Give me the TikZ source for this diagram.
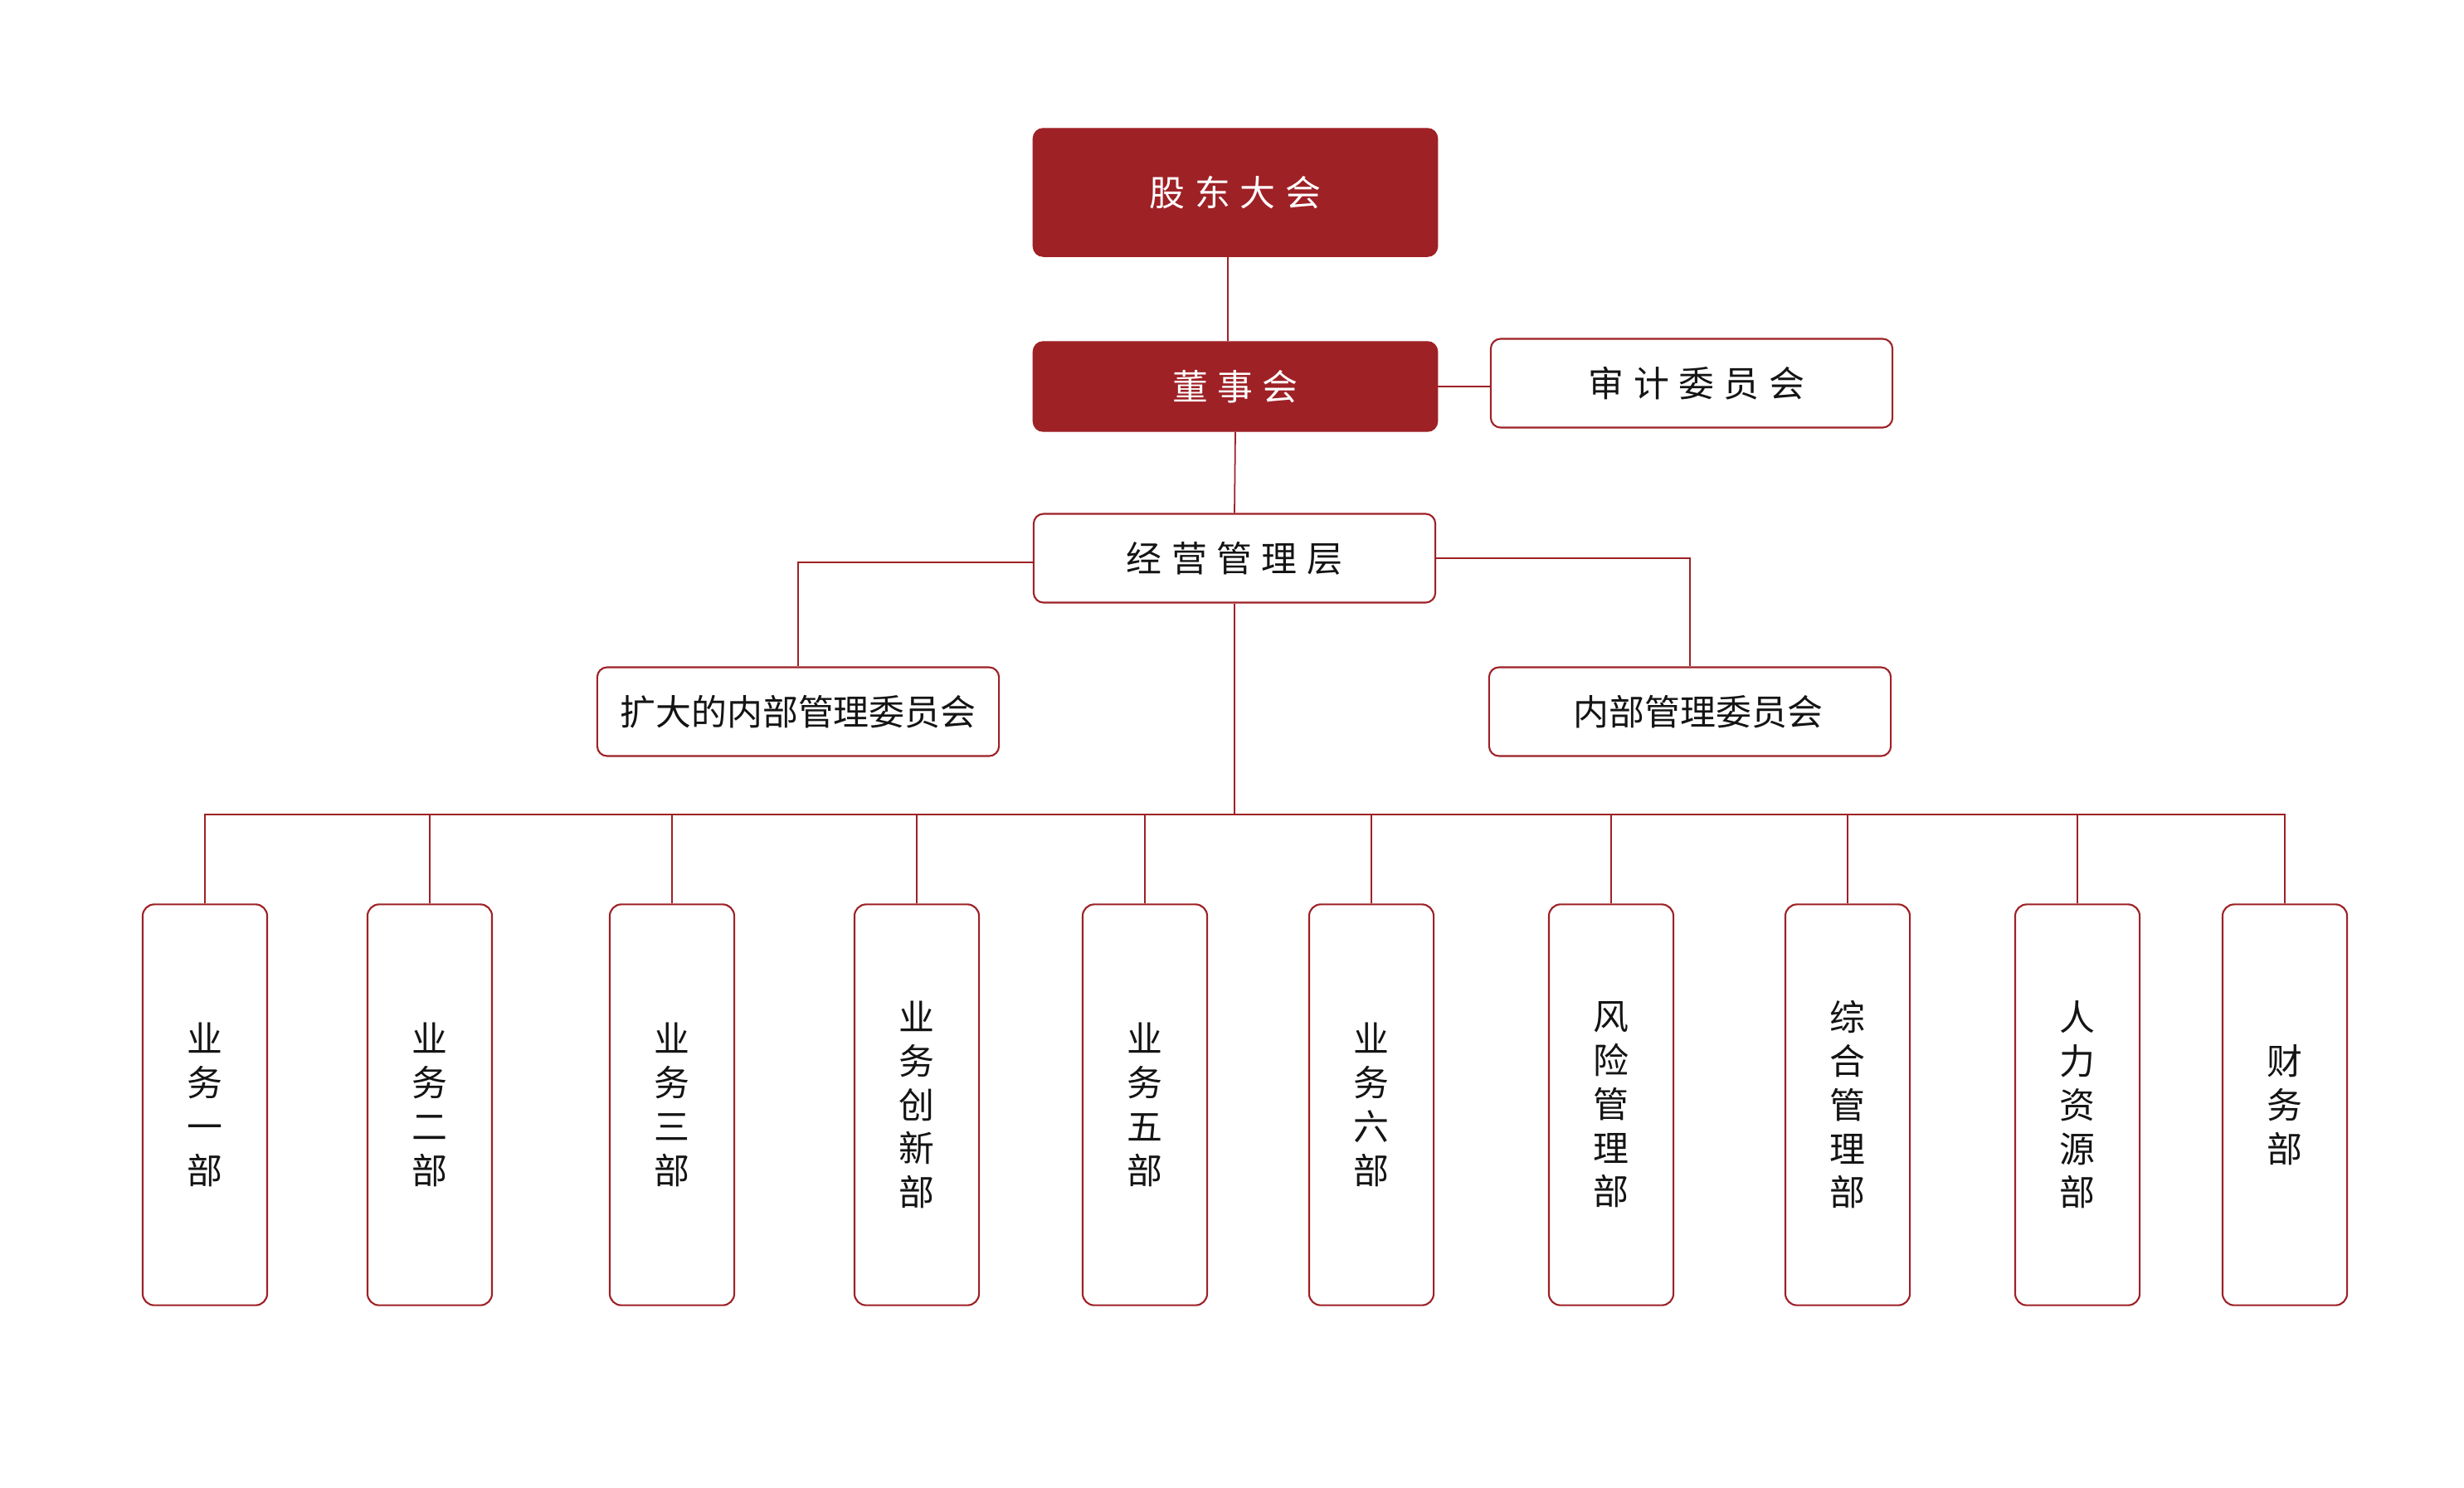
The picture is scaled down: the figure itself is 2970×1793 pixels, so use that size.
\documentclass[tikz,border=0pt]{standalone}
\usepackage{fontspec}
\newfontfamily\cjk{Noto Sans CJK SC}
\definecolor{dred}{RGB}{158,33,38}
\definecolor{ink}{RGB}{20,20,20}
\newcommand{\gp}{\hspace{0.115cm}}
\tikzset{
  redbox/.style={draw=dred, fill=dred, rounded corners=0.12cm, minimum width=4.87cm, inner sep=0pt, text=white, font=\cjk\fontsize{12.2}{14}\selectfont},
  wbox/.style={draw=dred, line width=0.6pt, fill=white, rounded corners=0.12cm, minimum width=4.84cm, minimum height=1.07cm, inner sep=0pt, text=ink, font=\cjk\fontsize{12.2}{14}\selectfont},
  dept/.style={draw=dred, line width=0.6pt, fill=white, rounded corners=0.14cm, minimum width=1.5cm, minimum height=4.83cm, inner sep=0pt, align=center, text=ink, font=\cjk\fontsize{12.2}{15}\selectfont},
  conn/.style={draw=dred, line width=0.5pt}
}
\begin{document}
\begin{tikzpicture}[x=0.01cm, y=-0.01cm]
\useasboundingbox (0,0) rectangle (2970,1793);
\fill[white] (0,0) rectangle (2970,1793);
% top level
\node[redbox, minimum height=1.54cm] (gd) at (1489,232) {股\gp 东\gp 大\gp 会};
\node[redbox, minimum height=1.08cm] (ds) at (1489,466) {董\gp 事\gp 会};
\node[wbox] (sj) at (2039,462) {\hspace*{0.12cm}审\gp 计\gp 委\gp 员\gp 会};
\node[wbox] (jy) at (1488,673) {经\gp 营\gp 管\gp 理\gp 层};
\node[wbox] (kd) at (962,858) {扩大的内部管理委员会};
\node[wbox] (nb) at (2037,858) {\hspace*{0.2cm}内部管理委员会};
% departments
\node[dept] (d1) at (247,1332) {业\\务\\一\\部};
\node[dept] (d2) at (518,1332) {业\\务\\二\\部};
\node[dept] (d3) at (810,1332) {业\\务\\三\\部};
\node[dept] (d4) at (1105,1332) {业\\务\\创\\新\\部};
\node[dept] (d5) at (1380,1332) {业\\务\\五\\部};
\node[dept] (d6) at (1653,1332) {业\\务\\六\\部};
\node[dept] (d7) at (1942,1332) {风\\险\\管\\理\\部};
\node[dept] (d8) at (2227,1332) {综\\合\\管\\理\\部};
\node[dept] (d9) at (2504,1332) {人\\力\\资\\源\\部};
\node[dept] (d10) at (2754,1332) {财\\务\\部};
\coordinate (bus) at (1488,982);
% connectors
\draw[conn] ([xshift=-0.09cm]gd.south) -- ([xshift=-0.09cm]ds.north);
\draw[conn] (ds.east) -- (ds.east -| sj.west);
\draw[conn] (ds.south) -- (jy.north);
\draw[conn] ([yshift=-0.05cm]jy.west) -| (kd.north);
\draw[conn] (jy.east) -| (nb.north);
\draw[conn] (jy.south) -- (bus);
\foreach \d in {d1,d2,d3,d4,d5,d6,d7,d8,d9,d10}{
  \draw[conn] (bus) -| (\d.north);
}
\end{tikzpicture}
\end{document}
